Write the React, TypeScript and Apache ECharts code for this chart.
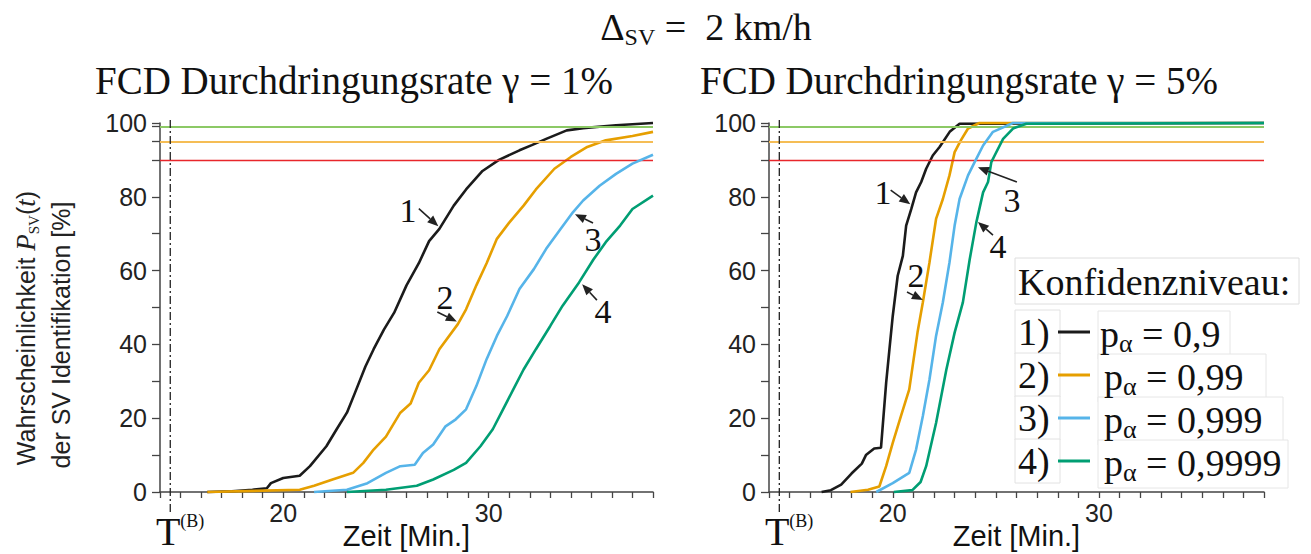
import React, { useEffect, useRef } from "react";
import * as echarts from "echarts";

// ---------- data ----------
const X_MIN = 14;
const X_MAX = 38;
const T_B = 14.5;
const X_LABELS = [20, 30];
const X_NAME = "Zeit [Min.]";
const Y_LABELS = [0, 20, 40, 60, 80, 100];
const Y_TICKS = [0, 10, 20, 30, 40, 50, 60, 70, 80, 90, 95, 99, 100];
const THRESHOLDS = [99, 95, 90];
const THRESHOLD_COLORS = ["#8cc965", "#f5bd55", "#e8262b"];
const SERIES_COLORS = ["#1b1b1b", "#E69F00", "#56B4E9", "#009E73"];
const LEGEND_NUMS = ["1)", "2)", "3)", "4)"];
const P_VALUES = ["0,9", "0,99", "0,999", "0,9999"];
const PANEL_TITLES = ["FCD Durchdringungsrate γ = 1%", "FCD Durchdringungsrate γ = 5%"];
const CURVE_IDS = ["1", "2", "3", "4"];

// gamma = 1 %
const LEFT_1 = [[16.3,0],[17.5,0.2],[18.5,0.6],[19.2,1],[19.4,2.4],[20,3.8],[20.8,4.4],[21.3,7],[22.1,12.4],[22.6,17],[23.1,21.5],[23.5,27],[24.0,34],[24.4,38.7],[24.9,44],[25.4,48.6],[26.0,56],[26.6,62],[27.1,68],[27.6,71.3],[28.3,77.6],[28.9,82],[29.7,87],[30.5,90],[31.5,92.6],[32.1,94],[32.8,95.7],[33.8,98],[34.6,98.6],[36.2,99.4],[38,100]];
const LEFT_2 = [[16.3,0],[20.8,0.6],[21.5,1.7],[22.4,3.4],[23.4,5.2],[23.9,7.9],[24.4,11.5],[25.0,15],[25.7,21.5],[26.2,24],[26.6,29.6],[27.1,33],[27.6,38.7],[28.5,45.5],[28.9,49.5],[29.4,56],[29.9,62],[30.4,68.6],[31.0,73],[31.7,77.6],[32.3,82],[33.2,87.6],[34.0,90.8],[34.8,93.5],[35.7,95.3],[37.0,96.5],[38,97.6]];
const LEFT_3 = [[21.5,0],[23.1,0.6],[24.1,2.4],[25.0,5.2],[25.7,7],[26.4,7.4],[26.8,10.6],[27.3,12.9],[27.9,17.8],[28.4,19.7],[28.9,22.4],[29.4,28.7],[29.9,36],[30.4,42.3],[30.9,47.7],[31.5,55],[32.2,60.4],[32.8,65.9],[33.5,71.3],[34.1,75.8],[34.6,79],[35.4,83],[36.2,86.2],[37.0,89],[38,91.4]];
const LEFT_4 = [[23.1,0],[25.0,0.6],[26.5,1.7],[27.3,3.4],[28.3,6],[28.9,7.9],[29.6,12.4],[30.2,17],[30.7,22.4],[31.2,27.8],[31.7,33.2],[32.3,38.7],[33.0,45],[33.6,50.5],[34.4,56.8],[35.1,63],[35.7,67.7],[36.4,72.2],[37.0,76.7],[38,80.3]];

// gamma = 5 %
const RIGHT_1 = [[16.55,0],[17.0,0.5],[17.5,2],[18.0,5],[18.5,7.7],[18.7,10],[19.1,11.8],[19.43,12],[19.68,29.6],[19.84,38.7],[20.0,47.7],[20.24,58.6],[20.49,64],[20.65,72.2],[20.9,76.7],[21.13,81.2],[21.38,84],[21.62,87.6],[21.94,91.2],[22.27,93.5],[22.76,97.6],[23.24,99.8],[38,100]];
const RIGHT_2 = [[17.95,0],[18.8,0.6],[19.35,1.5],[19.68,7],[20.0,13.3],[20.4,20.6],[20.8,27.8],[21.2,43.2],[21.46,51.4],[21.78,62.2],[22.1,74],[22.43,79.4],[22.75,85.8],[23.0,92.1],[23.3,95.3],[23.65,98.5],[24.2,100],[38,100]];
const RIGHT_3 = [[19.2,0],[20.0,2.4],[20.8,5.2],[21.13,11.5],[21.46,20.6],[21.78,30.5],[22.1,42.3],[22.43,51.4],[22.75,62.2],[23.0,72.2],[23.24,79.4],[23.65,85.8],[23.97,89.4],[24.38,93.9],[24.86,97.6],[25.83,100],[38,100]];
const RIGHT_4 = [[20.05,0],[20.95,0.5],[21.35,2.7],[21.62,7],[22.1,18.7],[22.6,33.2],[23.0,43.2],[23.4,51.4],[23.73,63],[24.05,73],[24.38,81.2],[24.62,84],[24.78,89.4],[24.94,91.2],[25.35,95.7],[25.83,98.5],[26.48,99.8],[38,100]];

const PANEL_DATA = [
  [LEFT_1, LEFT_2, LEFT_3, LEFT_4],
  [RIGHT_1, RIGHT_2, RIGHT_3, RIGHT_4],
];

// annotation: [label pos, arrow tail, arrow head] in data units (t, value)
const ANNOT_LEFT = [
  [[26.07, 76.4], [26.6, 76.8], [27.55, 72.0]],
  [[27.88, 52.8], [27.5, 48.8], [28.45, 46.2]],
  [[35.08, 68.3], [35.08, 72.9], [34.2, 75.3]],
  [[35.57, 48.8], [35.27, 52.0], [34.55, 56.3]],
];
const ANNOT_RIGHT = [
  [[19.53, 81.3], [19.9, 81.8], [20.85, 78.0]],
  [[21.13, 58.8], [20.69, 54.2], [21.46, 52.0]],
  [[25.78, 79.1], [26.02, 84.0], [24.13, 88.0]],
  [[25.1, 66.4], [24.86, 69.6], [24.13, 73.2]],
];
const ANNOTS = [ANNOT_LEFT, ANNOT_RIGHT];

// ---------- layout ----------
const GRIDS = [
  { left: 160, top: 123, width: 493, height: 369 },
  { left: 769, top: 123, width: 495, height: 369 },
];
const SANS = "Liberation Sans";
const SERIF = "Liberation Serif";

function toPx(g: number, t: number, v: number): [number, number] {
  const G = GRIDS[g];
  return [G.left + ((t - X_MIN) / (X_MAX - X_MIN)) * G.width, G.top + (1 - v / 100) * G.height];
}

function text(x: number, y: number, str: string, size: number, family: string, align = "left", extra: any = {}) {
  return {
    type: "text",
    x,
    y,
    z: 100,
    ...extra,
    style: {
      text: str,
      fill: "#111",
      fontSize: size,
      fontFamily: family,
      align,
      textAlign: align,
      verticalAlign: "middle",
      textVerticalAlign: "middle",
      ...(extra.style || {}),
    },
  };
}

function arrow(tail: [number, number], head: [number, number]) {
  const dx = head[0] - tail[0];
  const dy = head[1] - tail[1];
  const len = Math.sqrt(dx * dx + dy * dy) || 1;
  const ux = dx / len, uy = dy / len;
  const hl = 11, hw = 4.5;
  const bx = head[0] - ux * hl, by = head[1] - uy * hl;
  return [
    { type: "line", z: 100, shape: { x1: tail[0], y1: tail[1], x2: bx, y2: by }, style: { stroke: "#222", lineWidth: 1.6 } },
    {
      type: "polygon",
      z: 100,
      shape: { points: [[head[0], head[1]], [bx - uy * hw, by + ux * hw], [bx + uy * hw, by - ux * hw]] },
      style: { fill: "#222" },
    },
  ];
}

function buildOption() {
  const graphic: any[] = [];

  // main title
  graphic.push({
    type: "text",
    x: 706,
    y: 27,
    z: 100,
    style: {
      text: "{d|Δ}{s|SV}{d| =  2 km/h}",
      align: "center",
      textAlign: "center",
      verticalAlign: "middle",
      textVerticalAlign: "middle",
      rich: {
        d: { fontSize: 38, fontFamily: SERIF, fill: "#111", color: "#111", lineHeight: 44 },
        s: { fontSize: 24, fontFamily: SERIF, fill: "#111", color: "#111", verticalAlign: "bottom", lineHeight: 24 },
      },
    },
  });

  // panel titles
  graphic.push(text(95, 80, PANEL_TITLES[0], 39, SERIF));
  graphic.push(text(700, 80, PANEL_TITLES[1], 39, SERIF));

  // y-axis title (rotated, two lines)
  graphic.push({
    type: "text",
    x: 26,
    y: 328,
    rotation: Math.PI / 2,
    z: 100,
    style: {
      text: "{a|Wahrscheinlichkeit }{p|P}{s|SV}{a|(}{t|t}{a|)}",
      align: "center",
      textAlign: "center",
      verticalAlign: "middle",
      textVerticalAlign: "middle",
      rich: {
        a: { fontSize: 25, fontFamily: SANS, fill: "#222", color: "#222", lineHeight: 30 },
        p: { fontSize: 27, fontFamily: SERIF, fontStyle: "italic", fill: "#222", color: "#222", lineHeight: 30 },
        s: { fontSize: 15, fontFamily: SERIF, fill: "#222", color: "#222", verticalAlign: "bottom", lineHeight: 16 },
        t: { fontSize: 27, fontFamily: SERIF, fontStyle: "italic", fill: "#222", color: "#222", lineHeight: 30 },
      },
    },
  });
  graphic.push(text(61, 335, "der SV Identifikation [%]", 25, SANS, "center", { rotation: Math.PI / 2, style: { fill: "#222" } }));

  for (let g = 0; g < 2; g++) {
    const G = GRIDS[g];
    // x-axis name
    graphic.push(text(G.left + G.width / 2, 536, X_NAME, 29, SANS, "center"));

    // T^(B) dashed line
    const [bx] = toPx(g, T_B, 0);
    graphic.push({
      type: "line",
      z: 50,
      shape: { x1: bx, y1: 120, x2: bx, y2: 513 },
      style: { stroke: "#222", lineWidth: 1.3, lineDash: [8, 3, 2, 3] },
    });
    graphic.push(text(bx - 2, 531, "T", 40, SERIF, "center"));
    graphic.push(text(bx + 10, 521, "(B)", 18, SERIF, "left"));

    // curve annotations
    ANNOTS[g].forEach((a, i) => {
      const lp = toPx(g, a[0][0], a[0][1]);
      graphic.push(text(lp[0], lp[1], CURVE_IDS[i], 34, SERIF, "center"));
      graphic.push(...arrow(toPx(g, a[1][0], a[1][1]), toPx(g, a[2][0], a[2][1])));
    });
  }

  // legend
  graphic.push({
    type: "rect",
    z: 90,
    shape: { x: 1015, y: 258, width: 284, height: 46 },
    style: { fill: "#fff", stroke: "#dedede", lineWidth: 1 },
  });
  graphic.push(text(1018, 282, "Konfidenzniveau:", 38, SERIF, "left"));
  const rowY = [332, 375, 418, 461];
  const textW = [132, 168, 185, 190];
  LEGEND_NUMS.forEach((n, i) => {
    const y = rowY[i];
    graphic.push({ type: "rect", z: 90, shape: { x: 1015, y: y - 22, width: 45, height: 44 }, style: { fill: "#fff", stroke: "#e2e2e2", lineWidth: 1 } });
    graphic.push({ type: "rect", z: 90, shape: { x: 1098, y: y - 21, width: textW[i], height: 48 }, style: { fill: "#fff", stroke: "#e6e6e6", lineWidth: 1 } });
    graphic.push(text(1018, y, n, 38, SERIF, "left"));
    graphic.push({ type: "line", z: 100, shape: { x1: 1058, y1: y, x2: 1090, y2: y }, style: { stroke: SERIES_COLORS[i], lineWidth: 3 } });
    graphic.push({
      type: "text",
      x: 1100 + (i === 0 ? 0 : 4),
      y: y + 2,
      z: 100,
      style: {
        text: `{p|p}{a|α}{p| = ${P_VALUES[i]}}`,
        align: "left",
        textAlign: "left",
        verticalAlign: "middle",
        textVerticalAlign: "middle",
        rich: {
          p: { fontSize: 38, fontFamily: SERIF, fill: "#111", color: "#111", lineHeight: 44 },
          a: { fontSize: 26, fontFamily: SERIF, fill: "#111", color: "#111", verticalAlign: "bottom", lineHeight: 26 },
        },
      },
    });
  });

  const grid = GRIDS.map((G) => ({ ...G, containLabel: false, outerBoundsMode: "none" }));

  const xAxis = GRIDS.map((_, g) => ({
    gridIndex: g,
    type: "value",
    min: X_MIN,
    max: X_MAX,
    interval: 1,
    axisLine: { show: true, onZero: false, lineStyle: { color: "#444", width: 1.5 } },
    axisTick: { show: true, length: 6, lineStyle: { color: "#444", width: 1.3 } },
    axisLabel: {
      show: true,
      margin: 8,
      fontSize: 25,
      fontFamily: SANS,
      color: "#222",
      formatter: (v: number) => (X_LABELS.includes(v) ? String(v) : ""),
    },
    splitLine: { show: false },
  }));

  const yAxis = GRIDS.map((_, g) => ({
    gridIndex: g,
    type: "value",
    min: 0,
    max: 100,
    interval: 10,
    axisLine: { show: true, lineStyle: { color: "#444", width: 1.5 } },
    axisTick: { show: true, length: 8, customValues: Y_TICKS, lineStyle: { color: "#444", width: 1.3 } },
    axisLabel: {
      show: true,
      margin: 13,
      fontSize: 25,
      fontFamily: SANS,
      color: "#222",
      customValues: Y_LABELS,
      formatter: (v: number) => (Y_LABELS.includes(v) ? String(v) : ""),
    },
    splitLine: { show: false },
  }));

  const series: any[] = [];
  for (let g = 0; g < 2; g++) {
    series.push({
      type: "line",
      xAxisIndex: g,
      yAxisIndex: g,
      data: [],
      silent: true,
      z: 1,
      markLine: {
        silent: true,
        symbol: "none",
        label: { show: false },
        data: THRESHOLDS.map((v, i) => ({
          yAxis: v,
          lineStyle: { color: THRESHOLD_COLORS[i], width: i === 2 ? 1.4 : 2, type: "solid" },
        })),
      },
    });
    PANEL_DATA[g].forEach((d, i) => {
      series.push({
        type: "line",
        name: `p_α = ${P_VALUES[i]}`,
        xAxisIndex: g,
        yAxisIndex: g,
        data: d,
        showSymbol: false,
        symbol: "none",
        clip: false,
        z: 3 + i,
        lineStyle: { color: SERIES_COLORS[i], width: 2.6 },
        itemStyle: { color: SERIES_COLORS[i] },
      });
    });
  }

  return {
    animation: false,
    backgroundColor: "#ffffff",
    textStyle: { fontFamily: SANS },
    grid,
    xAxis,
    yAxis,
    series,
    graphic,
  };
}

export default function App() {
  const ref = useRef<HTMLDivElement>(null);
  useEffect(() => {
    if (!ref.current) return;
    const chart = echarts.init(ref.current, undefined, { renderer: "svg" });
    chart.setOption(buildOption() as any);
    return () => chart.dispose();
  }, []);
  return (
    <div
      ref={ref}
      style={{ position: "fixed", left: 0, top: 0, width: 1311, height: 554, background: "#fff" }}
    />
  );
}
